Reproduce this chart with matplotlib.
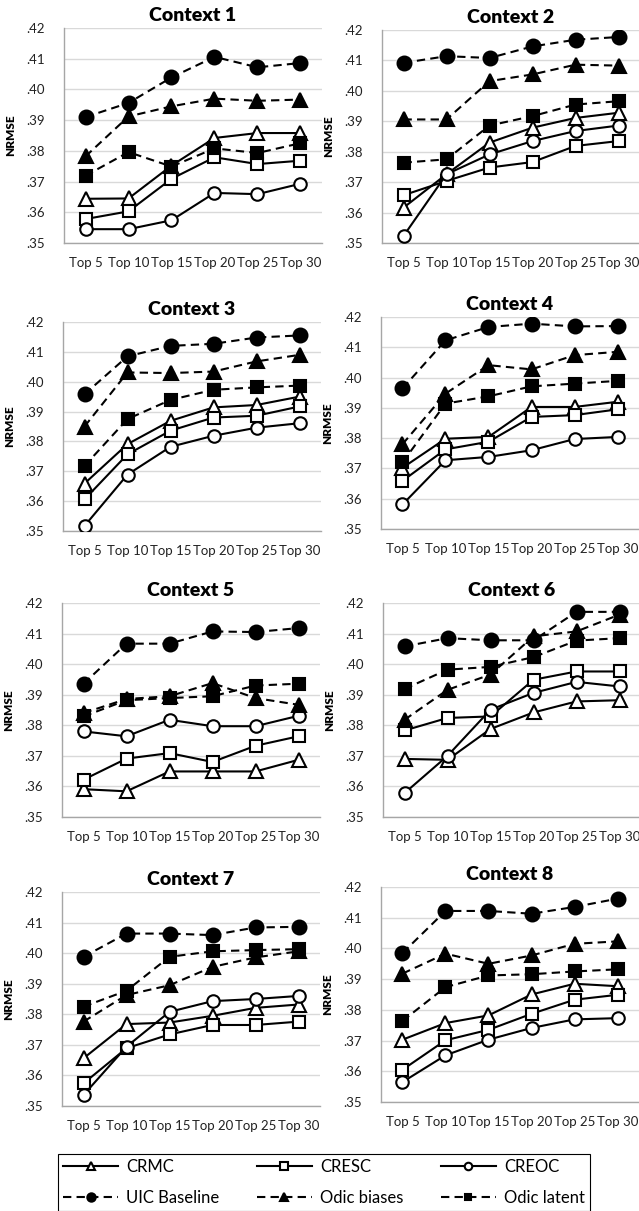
import numpy as np
import matplotlib
matplotlib.use('Agg')
import matplotlib.pyplot as plt

plt.rcParams['font.family'] = ['Lato', 'DejaVu Sans']

categories = ['Top 5', 'Top 10', 'Top 15', 'Top 20', 'Top 25', 'Top 30']
yticks = [.35, .36, .37, .38, .39, .40, .41, .42]
ytick_labels = ['.35', '.36', '.37', '.38', '.39', '.40', '.41', '.42']

series_names = ['CRMC', 'CRESC', 'CREOC', 'UIC Baseline', 'Odic biases', 'Odic latent']

# NRMSE values, one list per context
crmc = [
    [.3644, .3645, .3752, .3842, .3858, .3858],
    [.3616, .3726, .3830, .3879, .3911, .3928],
    [.3659, .3791, .3869, .3914, .3922, .3950],
    [.3702, .3798, .3804, .3903, .3903, .3920],
    [.3591, .3584, .3649, .3649, .3649, .3687],
    [.3690, .3687, .3788, .3842, .3878, .3882],
    [.3656, .3768, .3773, .3795, .3821, .3832],
    [.3703, .3757, .3782, .3850, .3885, .3877],
]
cresc = [
    [.3578, .3603, .3709, .3779, .3757, .3768],
    [.3657, .3704, .3748, .3766, .3819, .3835],
    [.3606, .3757, .3836, .3880, .3886, .3917],
    [.3659, .3763, .3788, .3870, .3876, .3895],
    [.3622, .3691, .3709, .3680, .3733, .3764],
    [.3783, .3824, .3829, .3949, .3976, .3976],
    [.3574, .3689, .3734, .3765, .3765, .3776],
    [.3605, .3701, .3735, .3787, .3833, .3849],
]
creoc = [
    [.3545, .3545, .3574, .3663, .3659, .3693],
    [.3523, .3726, .3791, .3835, .3868, .3886],
    [.3517, .3689, .3782, .3819, .3846, .3861],
    [.3581, .3727, .3738, .3760, .3797, .3804],
    [.3780, .3764, .3818, .3797, .3797, .3831],
    [.3578, .3700, .3851, .3906, .3942, .3927],
    [.3536, .3694, .3808, .3843, .3850, .3860],
    [.3565, .3652, .3703, .3741, .3769, .3773],
]
uic = [
    [.3910, .3956, .4039, .4106, .4072, .4086],
    [.4092, .4114, .4108, .4146, .4168, .4177],
    [.3958, .4085, .4120, .4127, .4148, .4155],
    [.3964, .4123, .4167, .4178, .4169, .4170],
    [.3936, .4067, .4067, .4107, .4105, .4118],
    [.4058, .4085, .4078, .4078, .4171, .4171],
    [.3988, .4064, .4064, .4059, .4084, .4086],
    [.3985, .4122, .4122, .4113, .4135, .4162],
]
odic_biases = [
    [.3782, .3912, .3945, .3970, .3963, .3967],
    [.3906, .3906, .4032, .4054, .4086, .4083],
    [.3850, .4031, .4029, .4034, .4068, .4090],
    [.3780, .3947, .4041, .4027, .4074, .4085],
    [.3840, .3886, .3895, .3938, .3889, .3867],
    [.3818, .3916, .3966, .4091, .4107, .4162],
    [.3776, .3863, .3895, .3955, .3986, .4006],
    [.3918, .3983, .3950, .3977, .4015, .4023],
]
odic_latent = [
    [.3719, .3796, .3749, .3808, .3793, .3825],
    [.3764, .3775, .3886, .3917, .3955, .3966],
    [.3718, .3875, .3939, .3973, .3981, .3987],
    [.3720, .3914, .3938, .3971, .3980, .3989],
    [.3829, .3882, .3889, .3895, .3930, .3936],
    [.3919, .3982, .3991, .4023, .4077, .4085],
    [.3825, .3877, .3988, .4006, .4010, .4013],
    [.3764, .3874, .3912, .3916, .3925, .3932],
]
all_series = [crmc, cresc, creoc, uic, odic_biases, odic_latent]

styles = [
    dict(ls='-', marker='^', mfc='white'),
    dict(ls='-', marker='s', mfc='white'),
    dict(ls='-', marker='o', mfc='white'),
    dict(ls=(0, (4, 2.5)), marker='o', mfc='black'),
    dict(ls=(0, (4, 2.5)), marker='^', mfc='black'),
    dict(ls=(0, (4, 2.5)), marker='s', mfc='black'),
]
msizes = [10, 9, 9, 10, 10, 8]

W, H = 639, 1211
fig = plt.figure(figsize=(W / 100, H / 100), dpi=100)

# panel boxes in pixels: left, top, bottom
boxes = [(64, 28, 243), (382, 30, 243),
         (63, 322, 531), (381, 317, 529),
         (62, 603, 817), (383, 603, 817),
         (62, 892, 1106), (381, 887, 1102)]
pw = 258

x = np.arange(len(categories))
handles = []
for k, (l, t, b) in enumerate(boxes):
    ax = fig.add_axes([l / W, 1 - b / H, pw / W, (b - t) / H])
    for s in range(6):
        st = styles[s]
        line, = ax.plot(x, all_series[s][k], color='black', lw=1.5, ls=st['ls'],
                        marker=st['marker'], ms=msizes[s], mfc=st['mfc'],
                        mec='black', mew=1.5, zorder=3 + s, label=series_names[s])
        if k == 0:
            handles.append(line)
    ax.set_xlim(-0.5, 5.5)
    ax.set_ylim(.35, .42)
    ax.set_yticks(yticks)
    ax.set_yticklabels(ytick_labels)
    ax.set_xticks(x)
    ax.set_xticklabels(categories)
    ax.grid(axis='y', color='#d9d9d9', lw=1)
    ax.set_axisbelow(True)
    for side in ['top', 'right']:
        ax.spines[side].set_visible(False)
    for side in ['left', 'bottom']:
        ax.spines[side].set_color('#a6a6a6')
        ax.spines[side].set_linewidth(1)
    ax.tick_params(length=0, labelsize=9.5, colors='#222222')
    ax.tick_params(axis='y', pad=14)
    ax.tick_params(axis='x', pad=10)
    ax.set_ylabel('NRMSE', fontsize=8.5, fontweight='heavy', labelpad=7)
    ax.set_title(f'Context {k + 1}', fontsize=14, fontweight='heavy', pad=5)

order = [0, 3, 1, 4, 2, 5]
leg = fig.legend([handles[i] for i in order], [series_names[i] for i in order],
                 ncol=3, loc='upper left', mode='expand',
                 bbox_to_anchor=(58 / W, 1 - 1154 / H, 532 / W, 0),
                 fontsize=12, handlelength=3.3, handletextpad=0.5,
                 markerscale=0.6, borderaxespad=0, borderpad=0.3,
                 labelspacing=0.9, fancybox=False,
                 edgecolor='black', framealpha=1)
leg.get_frame().set_linewidth(0.8)

fig.savefig('out.png', dpi=100)
